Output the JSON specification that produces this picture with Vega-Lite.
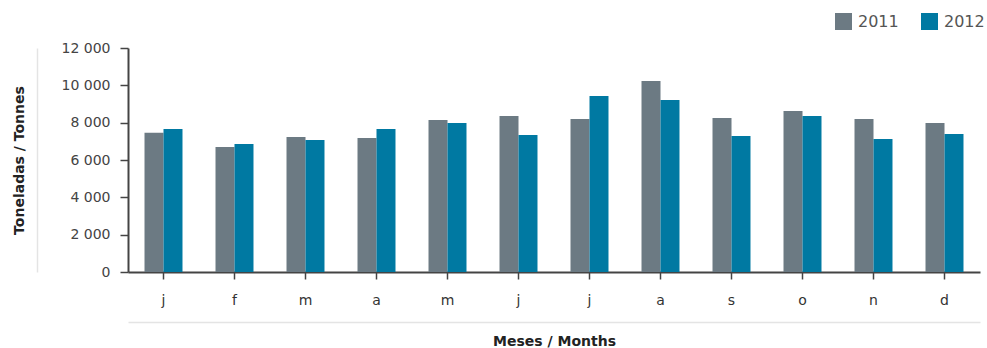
{
  "$schema": "https://vega.github.io/schema/vega-lite/v6.json",
  "width": 852,
  "height": 224,
  "autosize": {"type": "none"},
  "padding": {"left": 128, "top": 48, "right": 7, "bottom": 76},
  "background": "white",
  "config": {"view": {"stroke": null}, "font": "DejaVu Sans"},
  "data": {
    "values": [
      {"month": "jan", "year": "2011", "value": 7460},
      {"month": "jan", "year": "2012", "value": 7660},
      {"month": "feb", "year": "2011", "value": 6700},
      {"month": "feb", "year": "2012", "value": 6860},
      {"month": "mar", "year": "2011", "value": 7230},
      {"month": "mar", "year": "2012", "value": 7070},
      {"month": "apr", "year": "2011", "value": 7180},
      {"month": "apr", "year": "2012", "value": 7660},
      {"month": "may", "year": "2011", "value": 8140},
      {"month": "may", "year": "2012", "value": 7980},
      {"month": "jun", "year": "2011", "value": 8360},
      {"month": "jun", "year": "2012", "value": 7340},
      {"month": "jul", "year": "2011", "value": 8200},
      {"month": "jul", "year": "2012", "value": 9430},
      {"month": "aug", "year": "2011", "value": 10230},
      {"month": "aug", "year": "2012", "value": 9210},
      {"month": "sep", "year": "2011", "value": 8250},
      {"month": "sep", "year": "2012", "value": 7290},
      {"month": "oct", "year": "2011", "value": 8620},
      {"month": "oct", "year": "2012", "value": 8360},
      {"month": "nov", "year": "2011", "value": 8200},
      {"month": "nov", "year": "2012", "value": 7130},
      {"month": "dec", "year": "2011", "value": 7980},
      {"month": "dec", "year": "2012", "value": 7390}
    ]
  },
  "layer": [
    {
      "mark": {"type": "bar"},
      "encoding": {
        "x": {
          "field": "month",
          "type": "nominal",
          "sort": ["jan","feb","mar","apr","may","jun","jul","aug","sep","oct","nov","dec"],
          "scale": {"paddingInner": 0.465, "paddingOuter": 0.2325},
          "axis": {
            "title": null,
            "labelExpr": "substring(datum.value, 0, 1)",
            "labelAngle": 0,
            "labelFontSize": 14,
            "labelColor": "#333",
            "labelPadding": 14,
            "domainColor": "#444",
            "domainWidth": 2,
            "tickColor": "#444",
            "tickWidth": 1.5,
            "tickSize": 7
          }
        },
        "xOffset": {"field": "year", "type": "nominal"},
        "y": {
          "field": "value",
          "type": "quantitative",
          "scale": {"domain": [0, 12000]},
          "axis": {
            "title": null,
            "values": [0, 2000, 4000, 6000, 8000, 10000, 12000],
            "labelExpr": "replace(format(datum.value, ','), ',', ' ')",
            "labelFontSize": 14,
            "labelColor": "#444",
            "labelPadding": 10,
            "domainColor": "#444",
            "domainWidth": 2,
            "tickColor": "#444",
            "tickWidth": 1.5,
            "tickSize": 8,
            "grid": false
          }
        },
        "color": {
          "field": "year",
          "type": "nominal",
          "scale": {"domain": ["2011", "2012"], "range": ["#6c7a83", "#0079a2"]},
          "legend": {
            "orient": "none",
            "legendX": 707,
            "legendY": -35,
            "direction": "horizontal",
            "title": null,
            "symbolType": "square",
            "symbolSize": 289,
            "symbolStrokeWidth": 0,
            "labelFontSize": 16,
            "labelColor": "#555",
            "columnPadding": 22,
            "labelOffset": 6
          }
        }
      }
    },
    {
      "mark": {"type": "point", "opacity": 0},
      "encoding": {
        "x": {
          "field": "month",
          "type": "nominal",
          "sort": ["jan","feb","mar","apr","may","jun","jul","aug","sep","oct","nov","dec"],
          "axis": {
            "orient": "bottom",
            "offset": 50,
            "labels": false,
            "ticks": false,
            "domainColor": "#e4e4e4",
            "domainWidth": 1.5,
            "title": "Meses / Months",
            "titleFontSize": 14,
            "titleFontWeight": "bold",
            "titleColor": "#222",
            "titlePadding": 12
          }
        },
        "y": {
          "field": "value",
          "type": "quantitative",
          "axis": {
            "orient": "left",
            "offset": 91,
            "labels": false,
            "ticks": false,
            "grid": false,
            "domainColor": "#e4e4e4",
            "domainWidth": 1.5,
            "title": "Toneladas / Tonnes",
            "titleFontSize": 14,
            "titleFontWeight": "bold",
            "titleColor": "#222",
            "titlePadding": 11
          }
        }
      }
    }
  ],
  "resolve": {"axis": {"x": "independent", "y": "independent"}}
}
